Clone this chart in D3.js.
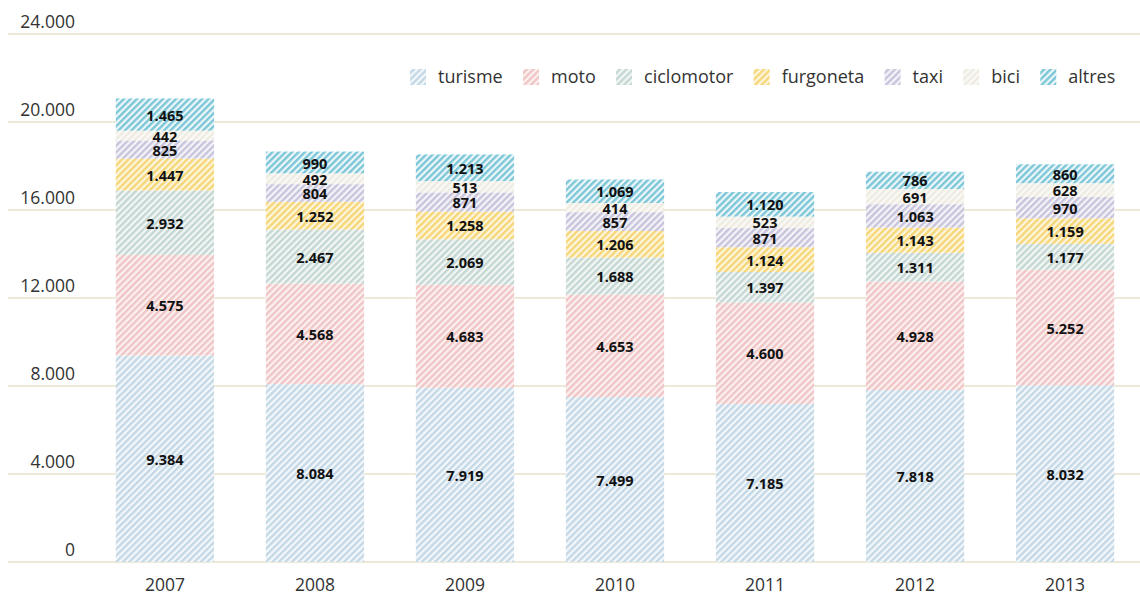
<!DOCTYPE html>
<html>
<head>
<meta charset="utf-8">
<script src="https://cdn.jsdelivr.net/npm/d3@7"></script>
<style>
  html, body { margin: 0; padding: 0; background: #fff; }
  svg { display: block; font-family: "Open Sans", sans-serif; }
</style>
</head>
<body>
<svg id="chart" width="1140" height="597"></svg>
<script>
// Vehicles involved, by type and year
const years = ["2007", "2008", "2009", "2010", "2011", "2012", "2013"];
const seriesNames = ["turisme", "moto", "ciclomotor", "furgoneta", "taxi", "bici", "altres"];
const turisme    = [9384, 8084, 7919, 7499, 7185, 7818, 8032];
const moto       = [4575, 4568, 4683, 4653, 4600, 4928, 5252];
const ciclomotor = [2932, 2467, 2069, 1688, 1397, 1311, 1177];
const furgoneta  = [1447, 1252, 1258, 1206, 1124, 1143, 1159];
const taxi       = [825, 804, 871, 857, 871, 1063, 970];
const bici       = [442, 492, 513, 414, 523, 691, 628];
const altres     = [1465, 990, 1213, 1069, 1120, 786, 860];
const yTicks = [0, 4000, 8000, 12000, 16000, 20000, 24000];

const seriesValues = { turisme, moto, ciclomotor, furgoneta, taxi, bici, altres };

// stripe colour and tint behind it, per vehicle type
const stripeColor = {
  turisme: "#c4d8e6", moto: "#efc5c5", ciclomotor: "#c5d7d3", furgoneta: "#f6d676",
  taxi: "#c8c4dc", bici: "#eeece2", altres: "#7cc6d8"
};
const tintColor = {
  turisme: "#f4f8fb", moto: "#fcf1f1", ciclomotor: "#f3f7f6", furgoneta: "#fdf6e0",
  taxi: "#f5f4f9", bici: "#faf9f5", altres: "#eef8fa"
};

const table = years.map((y, i) => {
  const row = { year: y };
  seriesNames.forEach(s => row[s] = seriesValues[s][i]);
  return row;
});

const locale = d3.formatLocale({ decimal: ",", thousands: ".", grouping: [3], currency: ["", "€"] });
const fmt = locale.format(",d");

const svg = d3.select("#chart");
const W = 1140, H = 597;

const x = d3.scaleBand().domain(years).range([90, 1140]).paddingInner(0.345).paddingOuter(0.172);
const y = d3.scaleLinear().domain([0, 24000]).range([562, 34]);

// hatch patterns
const defs = svg.append("defs");
seriesNames.forEach(s => {
  const p = defs.append("pattern")
    .attr("id", "hatch-" + s)
    .attr("patternUnits", "userSpaceOnUse")
    .attr("width", 4.6).attr("height", 4.6)
    .attr("patternTransform", "rotate(45)");
  p.append("rect").attr("width", 4.6).attr("height", 4.6).attr("fill", tintColor[s]);
  p.append("rect").attr("width", 2.4).attr("height", 4.6).attr("fill", stripeColor[s]);
});

// gridlines and value axis labels
const grid = svg.append("g");
grid.selectAll("line").data(yTicks).join("line")
  .attr("x1", 8).attr("x2", W)
  .attr("y1", d => y(d)).attr("y2", d => y(d))
  .attr("stroke", "#e8e1cd").attr("stroke-width", 1.5);
grid.selectAll("text").data(yTicks).join("text")
  .attr("x", 75).attr("y", d => y(d) - 6)
  .attr("text-anchor", "end")
  .attr("font-size", 17.5).attr("fill", "#333")
  .text(d => fmt(d));

// stacked bars
const stack = d3.stack().keys(seriesNames)(table);
const layers = svg.append("g").selectAll("g").data(stack).join("g")
  .attr("fill", d => `url(#hatch-${d.key})`);
layers.selectAll("rect").data(d => d).join("rect")
  .attr("x", d => x(d.data.year))
  .attr("width", x.bandwidth())
  .attr("y", d => y(d[1]))
  .attr("height", d => y(d[0]) - y(d[1]));

// value labels
const labels = svg.append("g");
stack.forEach(layer => {
  labels.selectAll(null).data(layer).join("text")
    .attr("x", d => x(d.data.year) + x.bandwidth() / 2)
    .attr("y", d => (y(d[0]) + y(d[1])) / 2 + 1)
    .attr("dy", "0.35em")
    .attr("text-anchor", "middle")
    .attr("font-size", 14.5).attr("font-weight", "bold").attr("fill", "#111")
    .text(d => fmt(d[1] - d[0]));
});

// category axis
svg.append("g").selectAll("text").data(years).join("text")
  .attr("x", d => x(d) + x.bandwidth() / 2)
  .attr("y", 591)
  .attr("text-anchor", "middle")
  .attr("font-size", 17.5).attr("fill", "#333")
  .text(d => d);

// legend
const legend = svg.append("g");
let lx = 410;
seriesNames.forEach(s => {
  const g = legend.append("g").attr("transform", `translate(${lx},0)`);
  g.append("rect").attr("x", 0).attr("y", 69).attr("width", 16).attr("height", 16)
    .attr("fill", `url(#hatch-${s})`);
  const t = g.append("text").attr("x", 28).attr("y", 83)
    .attr("font-size", 18).attr("fill", "#333").text(s);
  lx += 28 + t.node().getComputedTextLength() + 20.3;
});
</script>
</body>
</html>
